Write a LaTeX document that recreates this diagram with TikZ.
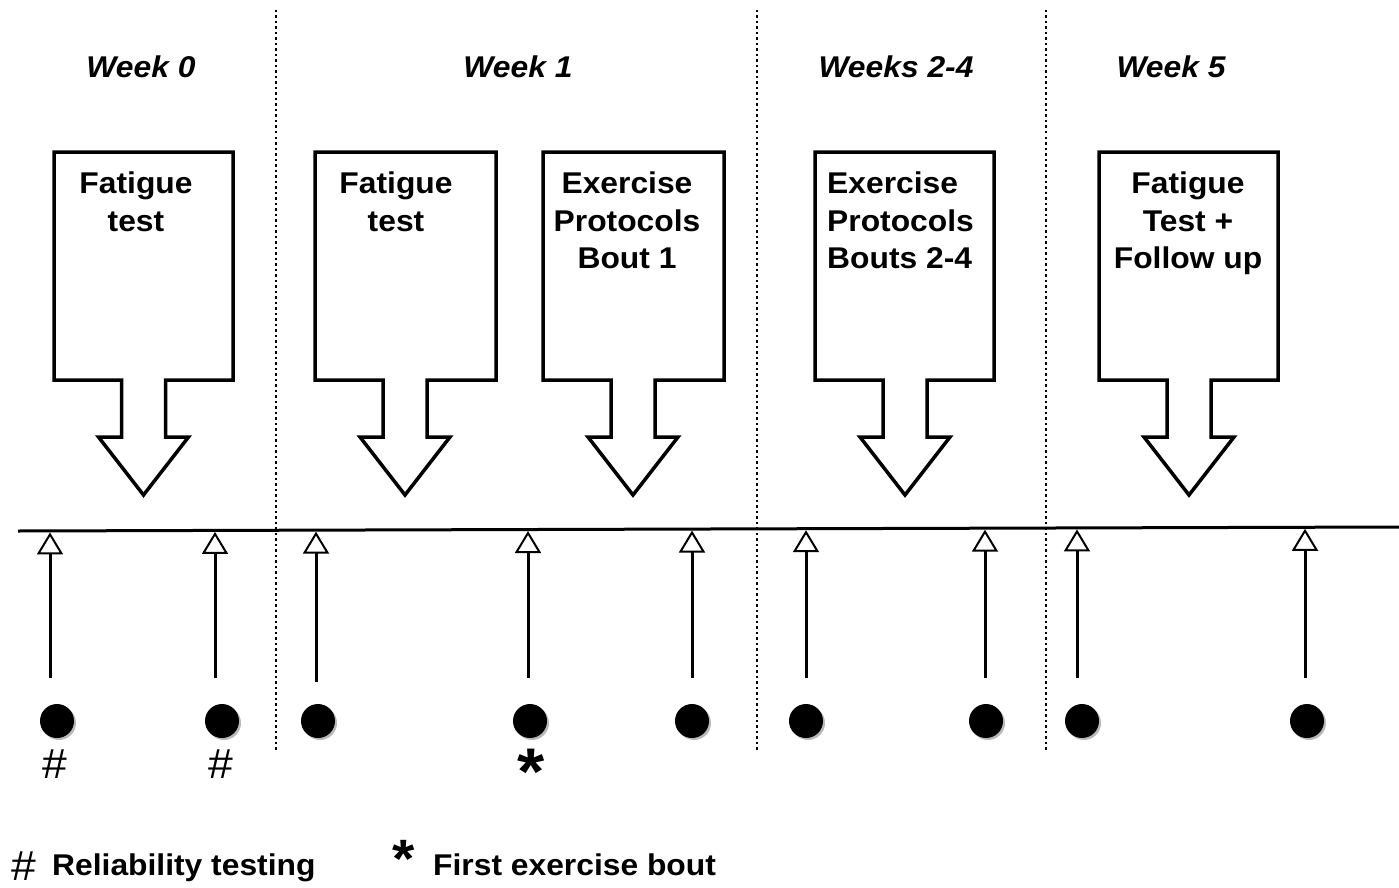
\documentclass[tikz,border=0pt]{standalone}
\usepackage{fontspec}
\setmainfont{Liberation Sans}[FakeStretch=1.06]
\usetikzlibrary{arrows.meta}
\begin{document}
\begin{tikzpicture}[x=1pt,y=-1pt,
 blockarr/.style={draw=black, line width=3.5pt, line join=miter, fill=white},
 boxtxt/.style={font=\fontsize{30}{37.5}\selectfont\bfseries, inner sep=0pt, anchor=north, align=center},
 weektxt/.style={font=\fontsize{30}{36}\selectfont\bfseries\itshape, inner sep=0pt, anchor=base},
 divider/.style={line width=2.5pt, dash pattern=on 2.5pt off 3pt},
 timeline/.style={line width=3pt},
 uparr/.style={line width=3pt, -{Triangle[open, fill=white, width=26pt, length=22pt, line width=2pt]}},
 dotnode/.style={circle, fill=black, minimum size=34pt, inner sep=0pt},
 dotshadow/.style={circle, fill=gray!55, minimum size=34pt, inner sep=0pt},
 hashmark/.style={font=\fontsize{42}{42}\selectfont, inner sep=0pt, anchor=base},
 starmark/.style={font=\fontsize{66}{66}\selectfont\bfseries, inner sep=0pt, anchor=base},
 legendtxt/.style={font=\fontsize{30}{36}\selectfont\bfseries, inner sep=0pt, anchor=base west}
]
\useasboundingbox (0,0) rectangle (1399,888);
% dividers
\foreach \x/\n in {276/v1, 757/v2, 1046/v3}{
  \coordinate (\n top) at (\x,10);
  \coordinate (\n bot) at (\x,750);
  \draw[divider] (\n top) -- (\n bot);
}
% week labels
\node[weektxt] (w0) at (141,78) {Week 0};
\node[weektxt] (w1) at (518,78) {Week 1};
\node[weektxt] (w2) at (896,78) {Weeks 2-4};
\node[weektxt] (w5) at (1171,78) {Week 5};
% block arrows
\foreach \L/\R/\c in {54/233/143.5, 315/496/405, 543/724/633, 815/994/905, 1099/1278/1189}{
  \draw[blockarr] (\L,152) -- (\R,152) -- (\R,380) -- ({\c+22},380) -- ({\c+22},437) -- ({\c+45},437)
     -- (\c,495) -- ({\c-45},437) -- ({\c-22},437) -- ({\c-22},380) -- (\L,380) -- cycle;
}
\node[boxtxt] (t1) at (136,172) {Fatigue\\test};
\node[boxtxt] (t2) at (396,172) {Fatigue\\test};
\node[boxtxt] (t3) at (627,172) {Exercise\\Protocols\\Bout 1};
\node[boxtxt, anchor=north west, align=left] (t4) at (827,172) {Exercise\\Protocols\\Bouts 2-4};
\node[boxtxt] (t5) at (1188,172) {Fatigue\\Test +\\Follow up};
% timeline
\coordinate (tl0) at (18,531);
\coordinate (tl1) at (1399,527);
\draw[timeline] (tl0) -- (tl1);
% arrows and dots
\foreach \x/\b/\dx [count=\i] in {50/678/57, 215/678/222, 316/682/318, 528/678/530, 692/678/692, 806/678/806, 985/678/986, 1077/678/1082, 1305/678/1307}{
  \coordinate (s\i) at (\x,\b);
  \coordinate (e\i) at (\x,{531-4*(\x-18)/1381+1.5});
  \draw[uparr] (s\i) -- (e\i);
  \node[dotshadow] (ds\i) at ({\dx+2},723) {};
  \node[dotnode] (d\i) at (\dx,721) {};
}
% marks
\node[hashmark] (h1) at (55,778) {\#};
\node[hashmark] (h2) at (221,778) {\#};
\node[starmark] (st) at (531,794) {*};
% legend
\node[hashmark] (lh) at (24,880) {\#};
\node[legendtxt] (lt1) at (52,875) {Reliability testing};
\node[starmark, font=\fontsize{54}{54}\selectfont\bfseries] (ls) at (404,877) {*};
\node[legendtxt] (lt2) at (433,875) {First exercise bout};
\end{tikzpicture}
\end{document}
